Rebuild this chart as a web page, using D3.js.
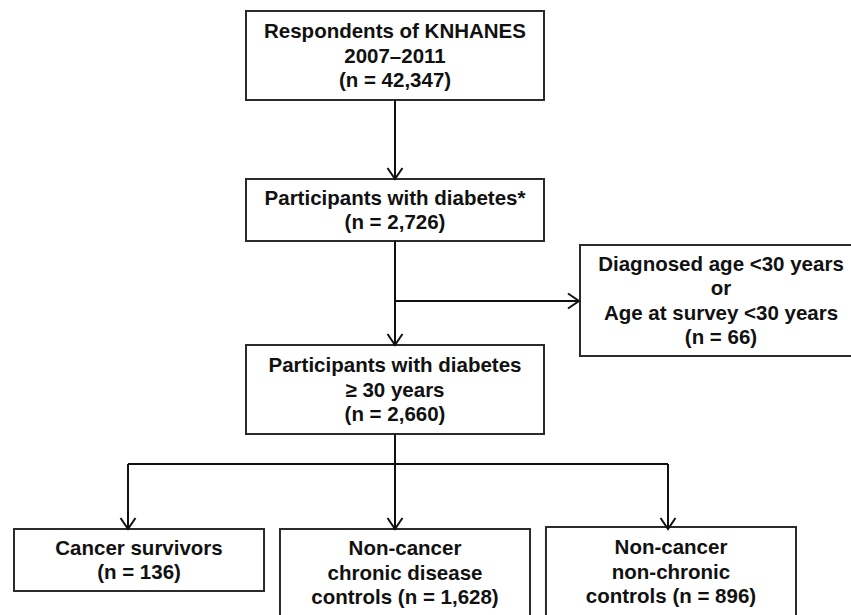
<!DOCTYPE html>
<html lang="en">
<head>
  <meta charset="UTF-8">
  <script src="https://cdn.jsdelivr.net/npm/d3@7"></script>
  <title>KNHANES flow chart</title>
  <style>
    body { margin: 0; background: #fff; }
    text { font-family: "Liberation Sans", Arial, Helvetica, sans-serif; font-weight: bold; font-size: 20.5px; fill: #111; }
  </style>
</head>
<body>
  <svg width="851" height="615" id="chart"></svg>
  <script>
    // box labels, one entry per line
    let topLabels = ["Respondents of KNHANES", "2007\u20132011", "(n = 42,347)"];
    let diabetesLabels = ["Participants with diabetes*", "(n = 2,726)"];
    let excludedLabels = ["Diagnosed age <30 years", "or", "Age at survey <30 years", "(n = 66)"];
    let adultLabels = ["Participants with diabetes", "\u2265 30 years", "(n = 2,660)"];
    let groupNames = ["Cancer survivors", "Non-cancer chronic disease controls", "Non-cancer non-chronic controls"];
    let groupLabels = [
      ["Cancer survivors", "(n = 136)"],
      ["Non-cancer", "chronic disease", "controls (n = 1,628)"],
      ["Non-cancer", "non-chronic", "controls (n = 896)"]
    ];

    let svg = d3.select("#chart");
    let lineH = 24.5;

    /* SCALES */
    // rows of the flow, from top to bottom
    let rowY = d3.scaleOrdinal()
      .domain(["top", "diabetes", "adult", "groups"])
      .range([[11, 100], [179, 241], [345, 434], [529, 616]]);
    // main column
    let mainX = d3.scaleLinear().domain([0, 1]).range([246, 544]);
    // bottom row of three groups
    let groupX = d3.scaleBand().domain(groupNames).range([14, 796]).paddingInner(0.06);
    let arrowX = d3.scalePoint().domain(groupNames).range([128, 668]);

    let midX = 395;

    /* BOXES */
    function drawBox(x0, x1, y0, y1, lines) {
      let g = svg.append("g");
      g.append("rect")
        .attr("x", x0).attr("y", y0)
        .attr("width", x1 - x0).attr("height", y1 - y0)
        .attr("fill", "#fff")
        .attr("stroke", "#2b2b2b")
        .attr("stroke-width", 2);
      let cy = (y0 + y1) / 2;
      g.selectAll("text")
        .data(lines)
        .enter()
        .append("text")
        .attr("x", (x0 + x1) / 2)
        .attr("y", (d, i) => cy + (i - (lines.length - 1) / 2) * lineH)
        .attr("dy", "0.35em")
        .attr("text-anchor", "middle")
        .text(d => d);
    }

    drawBox(mainX(0), mainX(1), rowY("top")[0], rowY("top")[1], topLabels);
    drawBox(mainX(0), mainX(1), rowY("diabetes")[0], rowY("diabetes")[1], diabetesLabels);
    drawBox(mainX(0), mainX(1), rowY("adult")[0], rowY("adult")[1], adultLabels);
    drawBox(580, 862, 245, 356, excludedLabels);

    groupNames.forEach((name, i) => {
      let y0 = rowY("groups")[0] - (i === 2 ? 2 : 0);
      let y1 = groupLabels[i].length > 2 ? rowY("groups")[1] : y0 + 62;
      drawBox(groupX(name), groupX(name) + groupX.bandwidth(), y0, y1, groupLabels[i]);
    });

    /* CONNECTORS */
    let lines = svg.append("g")
      .attr("stroke", "#111")
      .attr("stroke-width", 2)
      .attr("fill", "none");

    function seg(x1, y1, x2, y2) {
      lines.append("line").attr("x1", x1).attr("y1", y1).attr("x2", x2).attr("y2", y2);
    }

    // open V arrowhead pointing in direction (dx, dy)
    function head(x, y, dx, dy) {
      let len = 11, half = 7.5;
      let px = -dy, py = dx;
      lines.append("path")
        .attr("d", d3.line()([
          [x - dx * len + px * half, y - dy * len + py * half],
          [x, y],
          [x - dx * len - px * half, y - dy * len - py * half]
        ]));
    }

    let splitY = 464;
    let sideY = 301;

    seg(midX, rowY("top")[1], midX, rowY("diabetes")[0]);
    head(midX, rowY("diabetes")[0], 0, 1);

    seg(midX, rowY("diabetes")[1], midX, rowY("adult")[0]);
    head(midX, rowY("adult")[0], 0, 1);

    seg(midX, sideY, 579, sideY);
    head(579, sideY, 1, 0);

    seg(midX, rowY("adult")[1], midX, splitY);
    seg(arrowX(groupNames[0]), splitY, arrowX(groupNames[2]), splitY);
    groupNames.forEach(name => {
      let x = name === groupNames[1] ? midX : arrowX(name);
      seg(x, splitY, x, rowY("groups")[0]);
      head(x, rowY("groups")[0], 0, 1);
    });
  </script>
</body>
</html>
